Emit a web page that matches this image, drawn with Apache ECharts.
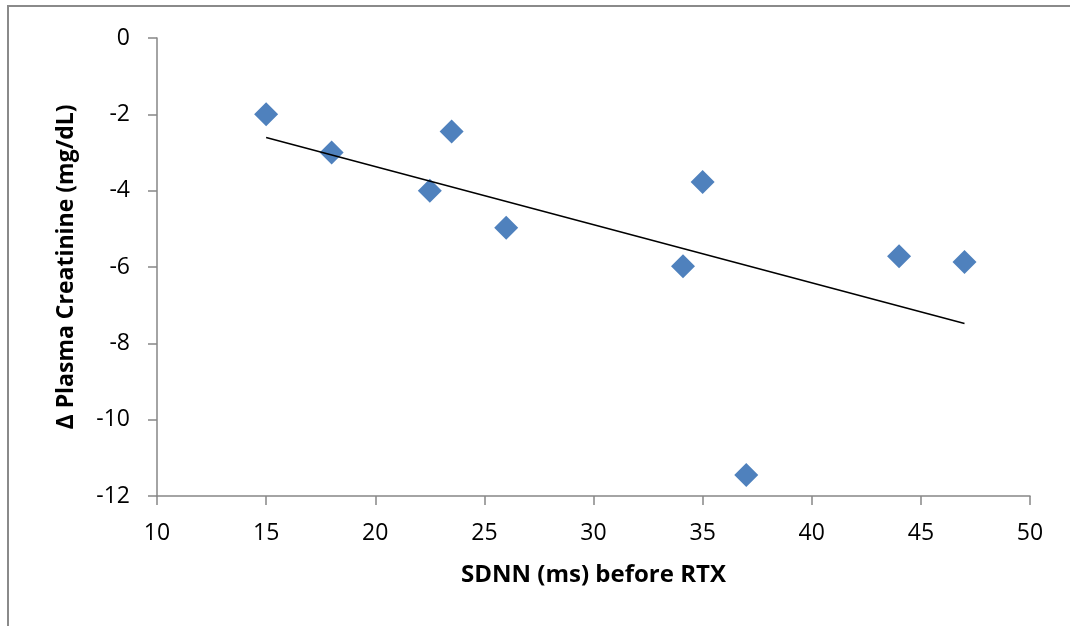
<!DOCTYPE html>
<html>
<head>
<meta charset="utf-8">
<style>
  html, body { margin: 0; padding: 0; background: #ffffff; }
  #chart { width: 1070px; height: 626px; }
</style>
<script src="https://cdn.jsdelivr.net/npm/echarts@6/dist/echarts.min.js"></script>
</head>
<body>
<div id="chart"></div>
<script>
// SDNN before RTX (ms) vs. change in plasma creatinine (mg/dL)
var sdnn = [15, 18, 22.5, 23.5, 26, 34.1, 35, 37, 44, 47];
var deltaCreatinine = [-2, -3, -4, -2.45, -4.97, -5.98, -3.77, -11.45, -5.72, -5.87];

var xTicks = { min: 10, max: 50, step: 5 };
var yTicks = { min: -12, max: 0, step: 2 };

var xTitle = 'SDNN (ms) before RTX';
var yTitle = '\u0394 Plasma Creatinine (mg/dL)';

// Least-squares linear trend line across the data range
function linearFit(xs, ys) {
  var n = xs.length, mx = 0, my = 0;
  for (var i = 0; i < n; i++) { mx += xs[i]; my += ys[i]; }
  mx /= n; my /= n;
  var sxy = 0, sxx = 0;
  for (var j = 0; j < n; j++) {
    sxy += (xs[j] - mx) * (ys[j] - my);
    sxx += (xs[j] - mx) * (xs[j] - mx);
  }
  var slope = sxy / sxx;
  return { slope: slope, intercept: my - slope * mx };
}
var fit = linearFit(sdnn, deltaCreatinine);
var xLo = Math.min.apply(null, sdnn), xHi = Math.max.apply(null, sdnn);
var trend = [
  [xLo, fit.intercept + fit.slope * xLo],
  [xHi, fit.intercept + fit.slope * xHi]
];

var points = sdnn.map(function (x, i) { return [x, deltaCreatinine[i]]; });

var axisGray = '#868686';
var labelFont = 'Open Sans';

var chart = echarts.init(document.getElementById('chart'), null, { renderer: 'canvas' });
chart.setOption({
  backgroundColor: '#ffffff',
  animation: false,
  graphic: [
    { type: 'rect', shape: { x: 7, y: 5, width: 1063, height: 2 }, style: { fill: '#8a8a8a' }, silent: true },
    { type: 'rect', shape: { x: 7, y: 5, width: 2, height: 621 }, style: { fill: '#8a8a8a' }, silent: true }
  ],
  grid: { left: 157, right: 40, top: 38, bottom: 130, containLabel: false },
  xAxis: {
    type: 'value',
    min: xTicks.min, max: xTicks.max, interval: xTicks.step,
    name: xTitle,
    nameLocation: 'middle',
    nameGap: 67,
    nameTextStyle: { fontFamily: labelFont, fontWeight: 'bold', fontSize: 24, color: '#000000' },
    axisLine: { show: true, onZero: false, lineStyle: { color: axisGray, width: 1.5 } },
    axisTick: { show: true, inside: false, length: 9, lineStyle: { color: axisGray, width: 1.5 } },
    axisLabel: { margin: 26, fontFamily: labelFont, fontSize: 23, color: '#000000' },
    splitLine: { show: false }
  },
  yAxis: {
    type: 'value',
    min: yTicks.min, max: yTicks.max, interval: yTicks.step,
    name: yTitle,
    nameLocation: 'middle',
    nameRotate: 90,
    nameGap: 79,
    nameTextStyle: { fontFamily: labelFont, fontWeight: 'bold', fontSize: 23, color: '#000000' },
    axisLine: { show: true, onZero: false, lineStyle: { color: axisGray, width: 1.5 } },
    axisTick: { show: true, inside: false, length: 9, lineStyle: { color: axisGray, width: 1.5 } },
    axisLabel: { margin: 27, fontFamily: labelFont, fontSize: 23, color: '#000000' },
    splitLine: { show: false }
  },
  series: [
    {
      type: 'scatter',
      data: points,
      symbol: 'diamond',
      symbolSize: 24,
      itemStyle: { color: '#4f81bd', opacity: 1 },
      z: 2
    },
    {
      type: 'line',
      data: trend,
      symbol: 'none',
      lineStyle: { color: '#000000', width: 1.5 },
      z: 3
    }
  ]
});
</script>
</body>
</html>
